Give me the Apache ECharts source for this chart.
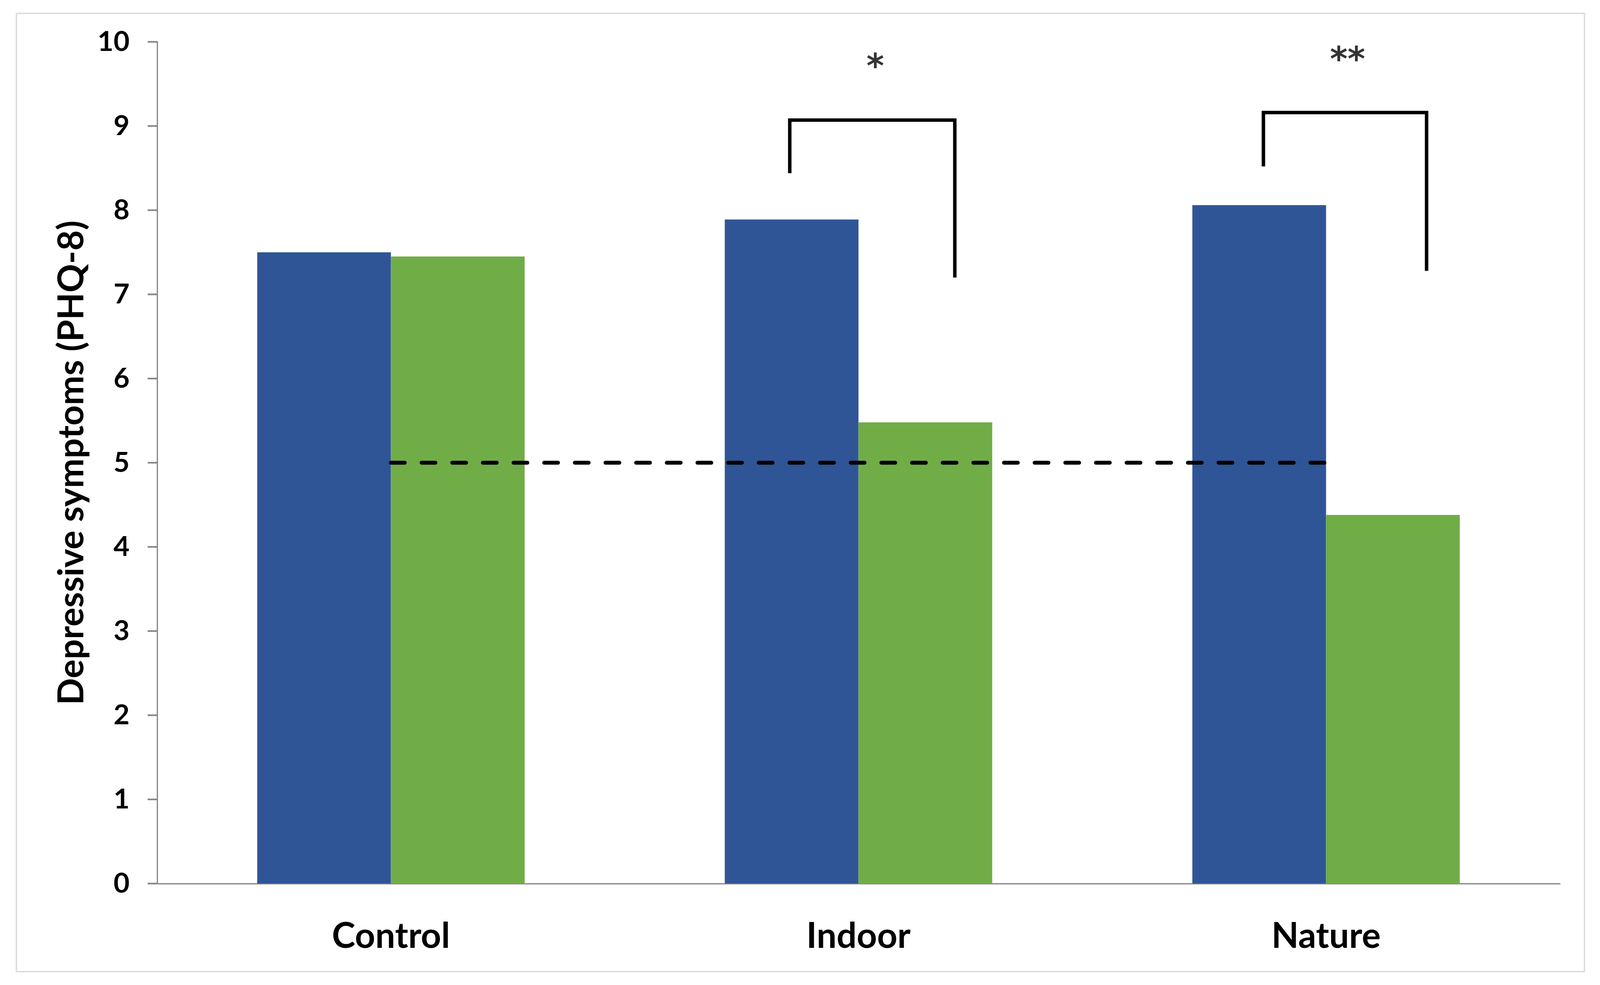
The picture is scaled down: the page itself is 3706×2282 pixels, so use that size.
<!DOCTYPE html>
<html>
<head>
<meta charset="utf-8">
<script src="https://cdn.jsdelivr.net/npm/echarts@6/dist/echarts.min.js"></script>
<style>html,body{margin:0;padding:0;background:#fff;}#c{width:3706px;height:2282px;}</style>
</head>
<body>
<div id="c"></div>
<script>
// ---- data ----
const categories = ['Control', 'Indoor', 'Nature'];
const baselineValues = [7.50, 7.89, 8.06];   // blue bars
const followupValues = [7.45, 5.48, 4.38];   // green bars
const cutoffValue = 5;
const cutoffFrom = 'Control';
const cutoffTo = 'Nature';
// significance brackets, x in category-band units (0..3), y in PHQ-8 units
const bracketIndoor = [[1.353, 8.44], [1.353, 9.07], [1.706, 9.07], [1.706, 7.20]];
const bracketNature = [[2.366, 8.52], [2.366, 9.16], [2.715, 9.16], [2.715, 7.28]];
const starLabels = ['*', '**'];
const starPositions = [[1.536, 9.68], [2.546, 9.76]];
const yTitle = 'Depressive symptoms (PHQ-8)';

const FONT = 'Lato';
const cutoffLine = [
  [categories.indexOf(cutoffFrom) + 0.5, cutoffValue],
  [categories.indexOf(cutoffTo) + 0.5, cutoffValue]
];

const chart = echarts.init(document.getElementById('c'));
chart.setOption({
  backgroundColor: '#ffffff',
  animation: false,
  graphic: [{
    type: 'rect', shape: { x: 38, y: 31, width: 3632, height: 2220 },
    style: { fill: 'none', stroke: '#d9d9d9', lineWidth: 3 }, z: -10
  }],
  grid: { left: 364, right: 93, top: 97, bottom: 235, containLabel: false },
  xAxis: [{
    type: 'category', data: categories,
    axisLine: { show: true, lineStyle: { color: '#8c8c8c', width: 3 } },
    axisTick: { show: false },
    axisLabel: { color: '#000', fontFamily: FONT, fontWeight: 'bold', fontSize: 82, margin: 82 },
    splitLine: { show: false }
  }, {
    type: 'value', min: 0, max: 3, show: false
  }],
  yAxis: [{
    type: 'value', min: 0, max: 10, interval: 1,
    name: yTitle, nameLocation: 'middle', nameGap: 156, nameRotate: 90,
    nameTextStyle: { color: '#000', fontFamily: FONT, fontWeight: 'bold', fontSize: 82 },
    axisLine: { show: true, lineStyle: { color: '#8c8c8c', width: 3 } },
    axisTick: { show: true, length: 22, inside: false, lineStyle: { color: '#8c8c8c', width: 4 } },
    axisLabel: { color: '#000', fontFamily: FONT, fontWeight: 'bold', fontSize: 64, margin: 64 },
    splitLine: { show: false }
  }],
  series: [{
    type: 'bar', name: 'Baseline', data: baselineValues,
    xAxisIndex: 0, yAxisIndex: 0,
    barGap: '0%', barCategoryGap: '42.8%',
    itemStyle: { color: '#2F5597' }
  }, {
    type: 'bar', name: 'Follow-up', data: followupValues,
    xAxisIndex: 0, yAxisIndex: 0,
    barGap: '0%', barCategoryGap: '42.8%',
    itemStyle: { color: '#70AD47' }
  }, {
    type: 'line', data: cutoffLine, xAxisIndex: 1, yAxisIndex: 0,
    symbol: 'none', lineStyle: { color: '#000', width: 9, type: [32, 39], cap: 'round' }, z: 10
  }, {
    type: 'line', data: bracketIndoor, xAxisIndex: 1, yAxisIndex: 0,
    symbol: 'none', lineStyle: { color: '#000', width: 8, join: 'miter', cap: 'butt' }, z: 5
  }, {
    type: 'line', data: bracketNature, xAxisIndex: 1, yAxisIndex: 0,
    symbol: 'none', lineStyle: { color: '#000', width: 8, join: 'miter', cap: 'butt' }, z: 5
  }, {
    type: 'scatter', xAxisIndex: 1, yAxisIndex: 0, symbolSize: 0,
    data: starPositions.map((p, i) => ({ value: p, name: starLabels[i] })),
    label: { show: true, position: 'inside', formatter: '{b}', color: '#000',
             fontFamily: 'DejaVu Sans', fontWeight: 'bold', fontSize: 78 }, z: 6
  }]
});
</script>
</body>
</html>
